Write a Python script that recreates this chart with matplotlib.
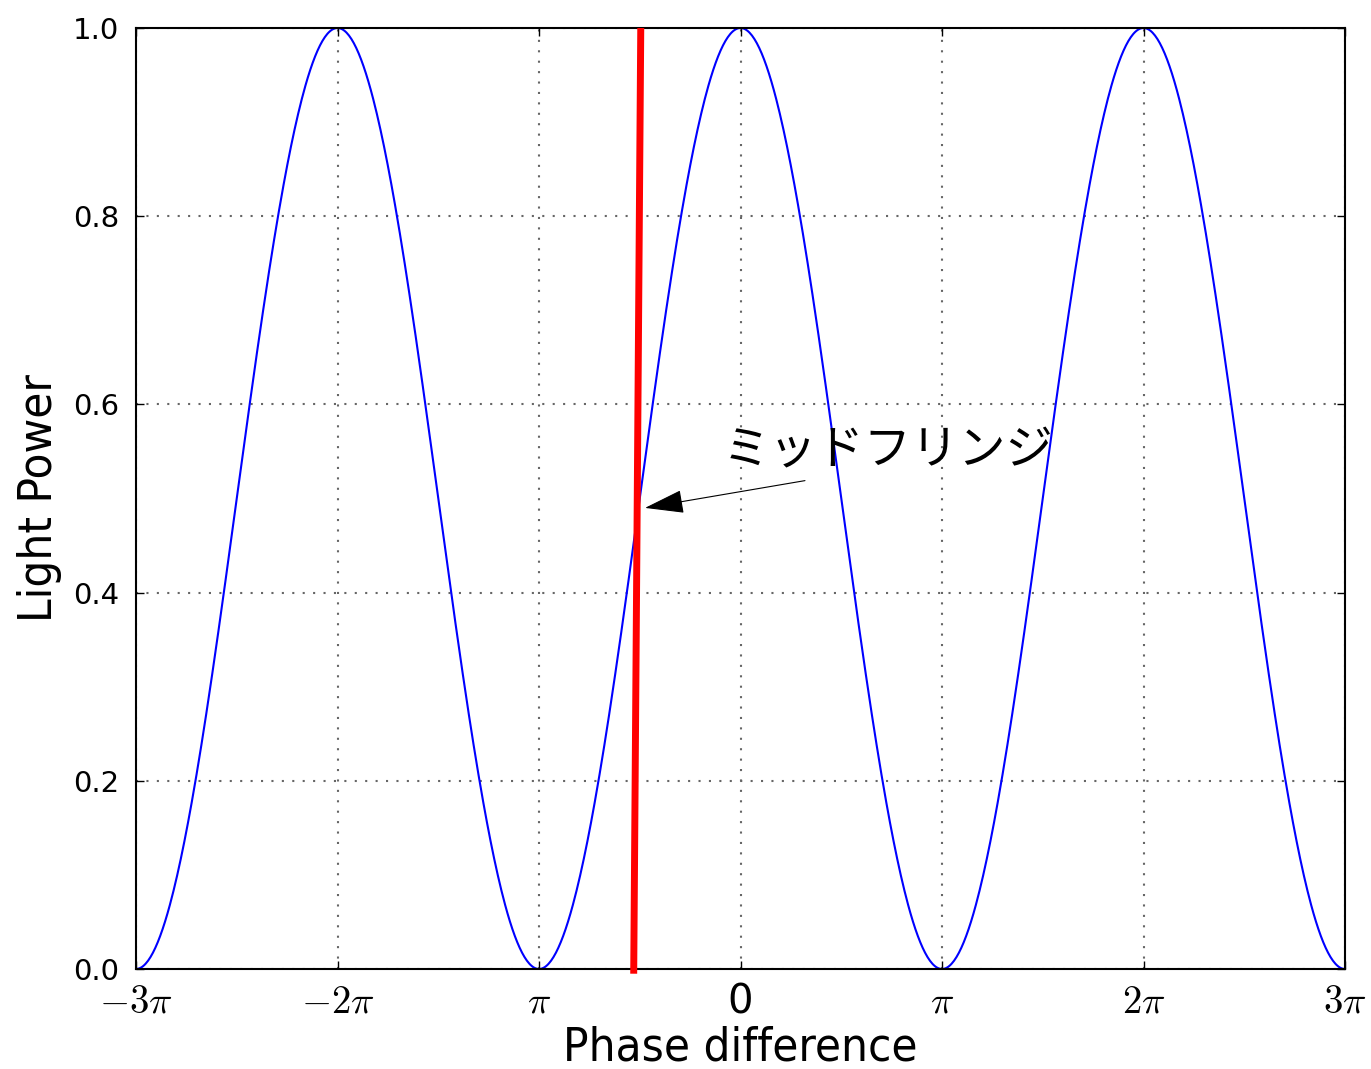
import numpy as np
import matplotlib
matplotlib.use("Agg")
import matplotlib.pyplot as plt
from matplotlib import font_manager
from matplotlib.font_manager import FontProperties

# ---- data ----
phase_min_pi = -3.0           # x range in units of pi
phase_max_pi = 3.0
n_samples = 1000
fringe_period_pi = 2.0        # Light power = cos^2(phase/2), period 2*pi
peak_power = 1.0

tick_pos_pi = [-3, -2, -1, 0, 1, 2, 3]
tick_labels = [r"$-3\pi$", r"$-2\pi$", r"$\pi$", "0", r"$\pi$", r"$2\pi$", r"$3\pi$"]
ytick_vals = [0.0, 0.2, 0.4, 0.6, 0.8, 1.0]

red_x_pi = [-0.53, -0.495]
red_y = [-0.005, 1.0]

arrow_tip = (-0.474, 0.49)     # (x in pi, y)
arrow_tail = (0.32, 0.519)
label_pos = (-0.09, 0.525)
label_text = "ミッドフリンジ"

# ---- plot ----
plt.rcParams['mathtext.fontset'] = 'cm'

cond_path = font_manager.findfont(FontProperties(family='DejaVu Sans', stretch='condensed'))
has_cond = 'Condensed' in cond_path
label_fp = dict(family='DejaVu Sans', fontstretch='condensed', fontsize=34) if has_cond \
    else dict(family='DejaVu Sans', fontsize=30)

fig = plt.figure(figsize=(13.71, 10.69), dpi=100)
ax = fig.add_axes([136/1371, 1-969/1069, (1345-136)/1371, (969-28)/1069])

x = np.linspace(phase_min_pi, phase_max_pi, n_samples) * np.pi
y = peak_power * np.cos(np.pi * x / (fringe_period_pi * np.pi)) ** 2
ax.plot(x, y, color=(0, 0, 1), lw=1.5)

ax.plot(np.array(red_x_pi) * np.pi, red_y, color=(1, 0, 0), lw=5, clip_on=False,
        solid_capstyle='butt', zorder=3)

ax.annotate('', xy=(arrow_tip[0] * np.pi, arrow_tip[1]),
            xytext=(arrow_tail[0] * np.pi, arrow_tail[1]),
            arrowprops=dict(arrowstyle='-|>,head_length=0.5,head_width=0.15',
                            mutation_scale=50, color='black', lw=0.8,
                            shrinkA=0, shrinkB=0))
ax.text(label_pos[0] * np.pi, label_pos[1], label_text,
        family=['Noto Sans CJK JP', 'DejaVu Sans'], fontsize=34,
        ha='left', va='bottom')

ax.set_xlim(phase_min_pi * np.pi, phase_max_pi * np.pi)
ax.set_ylim(0, 1)
ax.set_xticks(np.array(tick_pos_pi) * np.pi)
ax.set_xticklabels(tick_labels, fontsize=28)
for lab in ax.get_xticklabels():
    if lab.get_text() == "0":
        lab.set_fontsize(29)
ax.set_yticks(ytick_vals)
ax.set_yticklabels([f"{v:.1f}" for v in ytick_vals], fontsize=21)
ax.tick_params(direction='in', length=6, width=1, top=True, right=True)
ax.tick_params(axis='x', pad=10)
ax.tick_params(axis='y', pad=12)
ax.grid(True, color='0.4', linestyle=(0, (1, 4)), lw=1.5)
for s in ax.spines.values():
    s.set_linewidth(1.5)

ax.set_xlabel("Phase difference", labelpad=2, **label_fp)
ax.set_ylabel("Light Power", labelpad=8, **label_fp)

fig.savefig("out.png", dpi=100)
